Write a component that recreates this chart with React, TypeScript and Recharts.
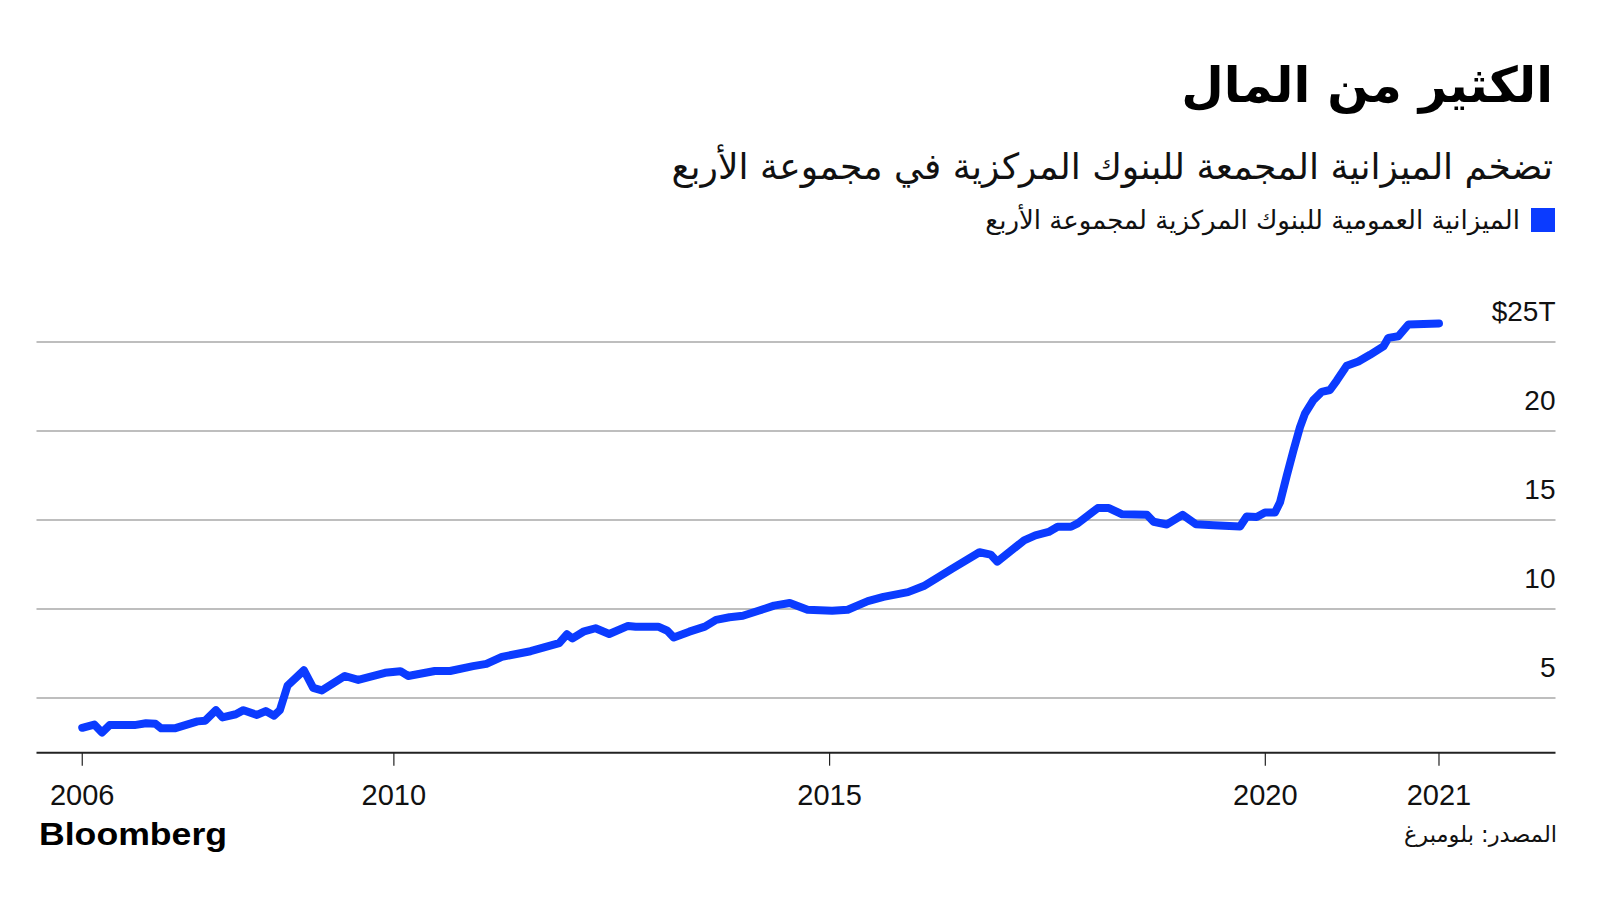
import React from "react";
import { LineChart, Line, XAxis, YAxis, ReferenceLine } from "recharts";

// ---- data (decimal year, trillions USD) ----
const years = [
  2006.424, 2006.562, 2006.65, 2006.738, 2007.023, 2007.155, 2007.265, 2007.33, 2007.484, 2007.747,
  2007.835, 2007.958, 2008.033, 2008.186, 2008.274, 2008.429, 2008.529, 2008.625, 2008.692, 2008.78,
  2008.968, 2009.074, 2009.174, 2009.438, 2009.591, 2009.899, 2010.075, 2010.163, 2010.47, 2010.645,
  2010.909, 2011.062, 2011.239, 2011.568, 2011.897, 2011.985, 2012.05, 2012.183, 2012.314, 2012.471,
  2012.687, 2012.775, 2013.033, 2013.138, 2013.211, 2013.39, 2013.569, 2013.697, 2013.851, 2014.005,
  2014.184, 2014.363, 2014.543, 2014.747, 2015.029, 2015.208, 2015.439, 2015.618, 2015.9, 2016.08,
  2016.412, 2016.72, 2016.848, 2016.925, 2017.232, 2017.361, 2017.514, 2017.617, 2017.77, 2017.847,
  2018.077, 2018.205, 2018.358, 2018.641, 2018.718, 2018.871, 2019.05, 2019.204, 2019.404, 2019.71,
  2019.786, 2019.901, 2019.996, 2020.111, 2020.169, 2020.246, 2020.322, 2020.398, 2020.455, 2020.551,
  2020.647, 2020.742, 2020.82, 2020.934, 2021.068, 2021.201, 2021.355, 2021.412, 2021.527, 2021.642,
  2021.993,
];
const balance = [
  3.33, 3.51, 3.06, 3.48, 3.48, 3.58, 3.55, 3.3, 3.3, 3.69,
  3.73, 4.32, 3.91, 4.09, 4.32, 4.05, 4.27, 4.01, 4.32, 5.7,
  6.56, 5.57, 5.43, 6.24, 6.02, 6.42, 6.51, 6.24, 6.52, 6.52,
  6.79, 6.92, 7.31, 7.63, 8.08, 8.58, 8.35, 8.75, 8.92, 8.6,
  9.05, 9.01, 9.01, 8.78, 8.4, 8.73, 9.01, 9.39, 9.54, 9.62,
  9.9, 10.19, 10.34, 9.96, 9.9, 9.96, 10.44, 10.68, 10.95, 11.29,
  12.28, 13.19, 13.06, 12.66, 13.86, 14.14, 14.33, 14.62, 14.62, 14.81,
  15.67, 15.67, 15.32, 15.29, 14.9, 14.75, 15.29, 14.76, 14.7, 14.64,
  15.2, 15.17, 15.42, 15.42, 16.0, 17.48, 18.89, 20.22, 20.97, 21.73,
  22.2, 22.3, 22.83, 23.66, 23.9, 24.28, 24.75, 25.23, 25.32, 25.98,
  26.04,
];
const xTickValues = [2006.424, 2010, 2015, 2020, 2021.993];
const xTickLabels = ["2006", "2010", "2015", "2020", "2021"];
const yTickValues = [5, 10, 15, 20, 25];
const yTickLabels = ["5", "10", "15", "20", "$25T"];

const titleText = "الكثير من المال";
const subtitleText = "تضخم الميزانية المجمعة للبنوك المركزية في مجموعة الأربع";
const legendText = "الميزانية العمومية للبنوك المركزية لمجموعة الأربع";
const sourceText = "المصدر: بلومبرغ";
const brandText = "Bloomberg";

const data = years.map((t, i) => ({ t, v: balance[i] }));

// ---- layout ----
const W = 1600;
const H = 900;
const PLOT_LEFT = 36.5;
const PLOT_RIGHT = 1555.5;
const PLOT_TOP = 306;
const AXIS_Y = 752.7;
const XAXIS_H = 60;
const BLUE = "#0b3bff";
const NUM_FONT = "'Liberation Sans', Arial, Helvetica, sans-serif";
const AR_FONT = "'DejaVu Sans', sans-serif";

const XTick = (props: any) => {
  const { x, payload } = props;
  const idx = xTickValues.indexOf(payload.value);
  return (
    <text x={x} y={AXIS_Y + 52} textAnchor="middle" fontSize={29} fontFamily={NUM_FONT} fill="#111">
      {idx >= 0 ? xTickLabels[idx] : ""}
    </text>
  );
};

const makeYLabel = (label: string) => (props: any) => {
  const vb = props.viewBox || {};
  const right = (vb.x ?? PLOT_LEFT) + (vb.width ?? PLOT_RIGHT - PLOT_LEFT);
  return (
    <text x={right} y={(vb.y ?? 0) - 21} textAnchor="end" fontSize={28} fontFamily={NUM_FONT} fill="#111">
      {label}
    </text>
  );
};

export default function App() {
  return (
    <div style={{ position: "absolute", left: 0, top: 0, width: W, height: H, background: "#fff", overflow: "hidden" }}>
      <div
        dir="rtl"
        style={{
          position: "absolute", right: W - 1553, top: 51, fontFamily: AR_FONT, fontWeight: 700,
          fontSize: 49, lineHeight: "70px", color: "#000", whiteSpace: "nowrap",
        }}
      >
        {titleText}
      </div>
      <div
        dir="rtl"
        style={{
          position: "absolute", right: W - 1553, top: 140, fontFamily: AR_FONT, fontWeight: 400,
          fontSize: 36, lineHeight: "54px", color: "#111", whiteSpace: "nowrap",
        }}
      >
        {subtitleText}
      </div>
      <div style={{ position: "absolute", left: 1531, top: 208, width: 24, height: 24, background: BLUE }} />
      <div
        dir="rtl"
        style={{
          position: "absolute", right: W - 1520, top: 201, fontFamily: AR_FONT, fontWeight: 400,
          fontSize: 26, lineHeight: "38px", color: "#111", whiteSpace: "nowrap",
        }}
      >
        {legendText}
      </div>

      <div style={{ position: "absolute", left: 0, top: 0 }}>
        <LineChart
          width={W}
          height={H}
          data={data}
          margin={{ top: PLOT_TOP, right: W - PLOT_RIGHT, bottom: H - AXIS_Y - XAXIS_H, left: PLOT_LEFT }}
        >
          <XAxis
            dataKey="t"
            type="number"
            domain={[2005.899, 2023.33]}
            ticks={xTickValues}
            interval={0}
            allowDataOverflow
            height={XAXIS_H}
            tickSize={13}
            tickLine={{ stroke: "#222", strokeWidth: 1.2 }}
            axisLine={{ stroke: "#222", strokeWidth: 2 }}
            tick={<XTick />}
          />
          <YAxis type="number" domain={[1.93, 27.02]} allowDataOverflow hide />
          {yTickValues.map((v, i) => (
            <ReferenceLine
              key={v}
              y={v}
              stroke="#a8a8a8"
              strokeWidth={1.4}
              label={{ content: makeYLabel(yTickLabels[i]) }}
            />
          ))}
          <Line
            type="linear"
            dataKey="v"
            stroke={BLUE}
            strokeWidth={8}
            strokeLinecap="round"
            strokeLinejoin="round"
            dot={false}
            activeDot={false}
            isAnimationActive={false}
          />
        </LineChart>
      </div>

      <svg style={{ position: "absolute", left: 0, top: 0 }} width={W} height={H} pointerEvents="none">
        <text x={39} y={845} fontFamily={NUM_FONT} fontWeight={700} fontSize={32} textLength={188} lengthAdjust="spacingAndGlyphs" fill="#000">
          {brandText}
        </text>
      </svg>
      <div
        dir="rtl"
        style={{
          position: "absolute", right: W - 1557, top: 818, fontFamily: AR_FONT, fontWeight: 400,
          fontSize: 22.5, lineHeight: "32px", color: "#111", whiteSpace: "nowrap",
        }}
      >
        {sourceText}
      </div>
    </div>
  );
}
